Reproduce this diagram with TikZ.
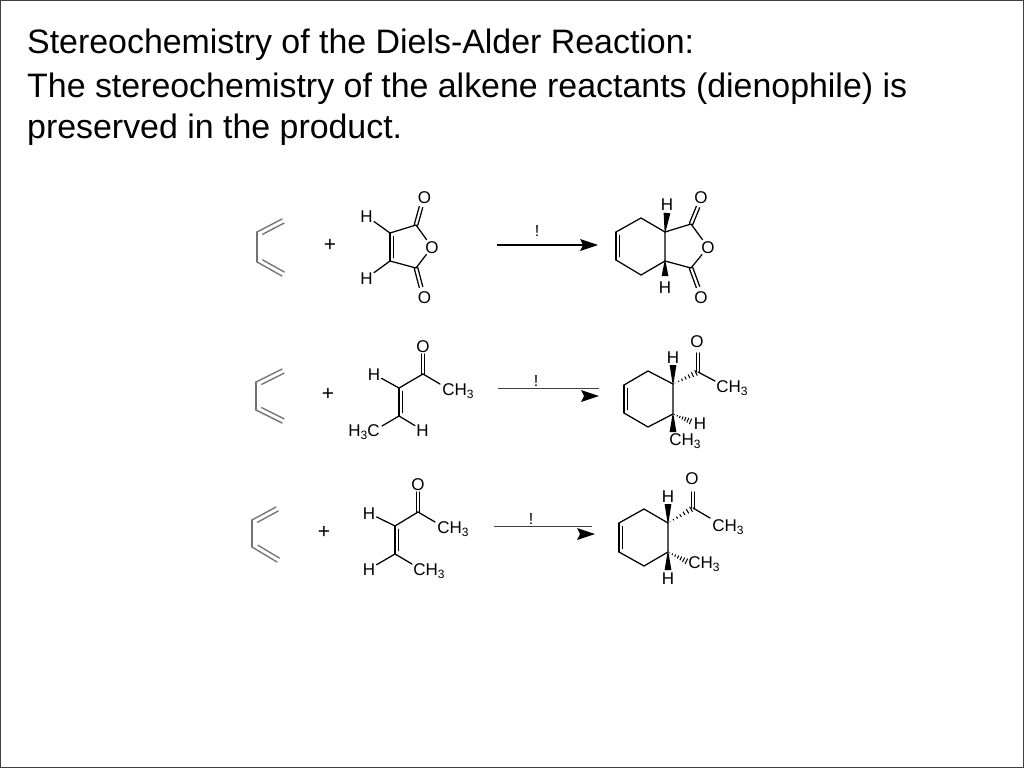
\documentclass[tikz,border=0pt]{standalone}
\usepackage{fontspec}
\setmainfont{Liberation Sans}
\usetikzlibrary{calc}
\newcommand{\subnum}[1]{\raisebox{-3.4pt}{\fontsize{12}{12}\selectfont #1}}
\newcommand{\bondgap}{3.8pt}
\newcommand{\dblbond}[3]{% a b style: main line and inner shortened parallel
  \draw[#3] (#1) -- (#2);
  \draw[#3] ($($(#1)!.12!(#2)$)!\bondgap!\bondside:(#2)$) -- ($($(#2)!.12!(#1)$)!\bondgap!-\bondside:(#1)$);}
\newcommand{\dienebond}[2]{%
  \draw[diene] (#1) -- (#2);
  \draw[diene] ($($(#1)!.14!(#2)$)!4.6pt!\bondside:(#2)$) -- ($(#2)!4.6pt!-\bondside:(#1)$);}
\newcommand{\bondside}{90}
\newcommand{\cobond}[2]{% symmetric C=O
  \draw[bondline] ($(#1)!1.8pt!90:(#2)$) -- ($(#2)!1.8pt!-90:(#1)$);
  \draw[bondline] ($(#1)!1.8pt!-90:(#2)$) -- ($(#2)!1.8pt!90:(#1)$);}
\newcommand{\wedgebond}[2]{%
  \fill ($(#1)!.4pt!90:(#2)$) -- ($(#2)!3.4pt!-90:(#1)$) -- ($(#2)!3.4pt!90:(#1)$) -- ($(#1)!.4pt!-90:(#2)$) -- cycle;}
\newcommand{\hashbond}[2]{%
  \coordinate (hl) at ($(#2)!3.2pt!90:(#1)$);
  \coordinate (hr) at ($(#2)!3.2pt!-90:(#1)$);
  \foreach \t in {.08,.22,.36,.50,.64,.78,.92}
    \draw[line width=1pt] ($(#1)!\t!(hl)$) -- ($(#1)!\t!(hr)$);}
\tikzset{
  bondline/.style={line width=1.25pt,black,line cap=round,line join=round},
  diene/.style={line width=1.35pt,black!55,line cap=round,line join=round},
  atom/.style={font=\fontsize{17}{18}\selectfont,inner sep=1.2pt,anchor=base},
  group/.style={font=\fontsize{17}{18}\selectfont,inner sep=1.2pt,anchor=base west},
  groupr/.style={font=\fontsize{17}{18}\selectfont,inner sep=1.2pt,anchor=base east},
  plussign/.style={font=\fontsize{21}{22}\selectfont,inner sep=0pt},
  bangmark/.style={font=\fontsize{16}{16}\selectfont,inner sep=0pt},
  titleline/.style={font=\fontsize{33.9}{38}\selectfont,inner sep=0pt,anchor=base west}
}
\newcommand{\arrowhead}[2]{% tip, back
  \fill (#1) -- ($(#2)+(-3,-6)$) -- (#2) -- ($(#2)+(-3,6)$) -- cycle;}
\begin{document}
\begin{tikzpicture}[x=1pt,y=-1pt]
\useasboundingbox (0,0) rectangle (1024,768);
\fill[white] (0,0) rectangle (1024,768);
\draw[line width=1pt,black!75] (.5,.5) rectangle (1023.5,767.5);

% title
\node[titleline] (t1) at (27,54) {Stereochemistry of the Diels-Alder Reaction:};
\node[titleline] (t2) at (27,97) {The stereochemistry of the alkene reactants (dienophile) is};
\node[titleline] (t3) at (27,138) {preserved in the product.};

% ---------- row 1 ----------
\coordinate (a1) at (282,219); \coordinate (a2) at (257,232);
\coordinate (a3) at (257,262); \coordinate (a4) at (282,276);
\renewcommand{\bondside}{-90}
\dienebond{a2}{a1}
\draw[diene] (a2) -- (a3);
\renewcommand{\bondside}{90}
\dienebond{a3}{a4}
\node[plussign] (p1) at (330,245) {+};

\coordinate (m3) at (390,233); \coordinate (m4) at (390,261);
\coordinate (m2) at (416,225); \coordinate (m5) at (416,268);
\node[atom] (mO) at (432,253) {O};
\node[atom] (mOa) at (424.5,203) {O};
\node[atom] (mOb) at (424.5,303) {O};
\node[atom] (mH1) at (366.5,222) {H};
\node[atom] (mH2) at (366.5,284) {H};
\coordinate (mO1) at (421,207); \coordinate (mO2) at (421,287);
\renewcommand{\bondside}{90}
\dblbond{m3}{m4}{bondline}
\draw[bondline] (m3) -- (m2) -- (mO) -- (m5) -- (m4);
\cobond{m2}{mO1}
\cobond{m5}{mO2}
\draw[bondline] (m3) -- (mH1);
\draw[bondline] (m4) -- (mH2);

\node[bangmark] (x1) at (537,231) {!};
\coordinate (r1s) at (497,245); \coordinate (r1e) at (585,245);
\draw[line width=1.2pt] (r1s) -- (r1e);
\coordinate (r1t) at (598,245); \coordinate (r1b) at (583,245);
\arrowhead{r1t}{r1b}

\coordinate (c1) at (665,232); \coordinate (c2) at (665,261);
\coordinate (c3) at (641,275); \coordinate (c4) at (616,260);
\coordinate (c5) at (616,232); \coordinate (c6) at (641,218);
\coordinate (c7) at (691,224); \coordinate (c8) at (691,268);
\node[atom] (cO) at (708,253) {O};
\node[atom] (cOa) at (701,203) {O};
\node[atom] (cOb) at (701,303) {O};
\node[atom] (cH1) at (667,210) {H};
\node[atom] (cH2) at (665,293) {H};
\coordinate (cO1) at (698,207); \coordinate (cO2) at (698,287);
\coordinate (cW1) at (667,213); \coordinate (cW2) at (665,276);
\draw[bondline] (c1) -- (c2) -- (c3) -- (c4);
\draw[bondline] (c5) -- (c6) -- (c1) -- (c7) -- (cO) -- (c8) -- (c2);
\renewcommand{\bondside}{90}
\dblbond{c5}{c4}{bondline}
\cobond{c7}{cO1}
\cobond{c8}{cO2}
\wedgebond{c1}{cW1}
\wedgebond{c2}{cW2}

% ---------- row 2 ----------
\coordinate (b1) at (282,369); \coordinate (b2) at (256,382);
\coordinate (b3) at (256,410); \coordinate (b4) at (282,423);
\renewcommand{\bondside}{-90}
\dienebond{b2}{b1}
\draw[diene] (b2) -- (b3);
\renewcommand{\bondside}{90}
\dienebond{b3}{b4}
\node[plussign] (p2) at (328,394) {+};

\coordinate (e1) at (423,374); \coordinate (e2) at (399,388); \coordinate (e3) at (399,416);
\coordinate (eOe) at (423,354);
\node[atom] (eO) at (423,352) {O};
\node[atom] (eH1) at (374,380) {H};
\node[atom] (eH2) at (422.5,436) {H};
\node[group] (eMe) at (441,395) {CH\subnum{3}};
\node[groupr] (eMe2) at (381,436) {H\subnum{3}C};
\coordinate (eB1) at (440,384); \coordinate (eB2) at (382,426);
\cobond{e1}{eOe}
\draw[bondline] (e1) -- (eB1);
\draw[bondline] (e1) -- (e2);
\renewcommand{\bondside}{90}
\dblbond{e2}{e3}{bondline}
\draw[bondline] (e2) -- (eH1);
\draw[bondline] (e3) -- (eH2);
\draw[bondline] (e3) -- (eB2);

\node[bangmark] (x2) at (536,381) {!};
\coordinate (r2s) at (498,388); \coordinate (r2e) at (599,388);
\draw[line width=1pt,black!75] (r2s) -- (r2e);
\coordinate (r2t) at (599,396); \coordinate (r2b) at (584,396);
\arrowhead{r2t}{r2b}

\coordinate (d1) at (673,384); \coordinate (d2) at (673,414);
\coordinate (d3) at (648,427); \coordinate (d4) at (624,413);
\coordinate (d5) at (624,385); \coordinate (d6) at (648,371);
\coordinate (d7) at (698,372); \coordinate (dOe) at (698,353);
\coordinate (dB) at (715,381);
\node[atom] (dO) at (697,347) {O};
\node[atom] (dH1) at (673,363) {H};
\node[atom] (dH2) at (700,429) {H};
\node[group] (dMe) at (715,392) {CH\subnum{3}};
\node[group] (dMe2) at (668,445) {CH\subnum{3}};
\coordinate (dW1) at (673,365); \coordinate (dW2) at (673,432); \coordinate (dH) at (692,422);
\draw[bondline] (d1) -- (d2) -- (d3) -- (d4);
\draw[bondline] (d5) -- (d6) -- (d1);
\renewcommand{\bondside}{90}
\dblbond{d5}{d4}{bondline}
\hashbond{d1}{d7}
\cobond{d7}{dOe}
\draw[bondline] (d7) -- (dB);
\wedgebond{d1}{dW1}
\wedgebond{d2}{dW2}
\hashbond{d2}{dH}

% ---------- row 3 ----------
\coordinate (f1) at (276,507); \coordinate (f2) at (252,520);
\coordinate (f3) at (252,547); \coordinate (f4) at (277,562);
\renewcommand{\bondside}{-90}
\dienebond{f2}{f1}
\draw[diene] (f2) -- (f3);
\renewcommand{\bondside}{90}
\dienebond{f3}{f4}
\node[plussign] (p3) at (324,532) {+};

\coordinate (g1) at (418,512); \coordinate (g2) at (395,526); \coordinate (g3) at (395,554);
\coordinate (gOe) at (418,492); \coordinate (gB1) at (435,522); \coordinate (gB2) at (412,564);
\node[atom] (gO) at (418,490) {O};
\node[atom] (gH1) at (369,519) {H};
\node[atom] (gH2) at (369,575) {H};
\node[group] (gMe) at (436,533) {CH\subnum{3}};
\node[group] (gMe2) at (412,575) {CH\subnum{3}};
\cobond{g1}{gOe}
\draw[bondline] (g1) -- (gB1);
\draw[bondline] (g1) -- (g2);
\renewcommand{\bondside}{90}
\dblbond{g2}{g3}{bondline}
\draw[bondline] (g2) -- (gH1);
\draw[bondline] (g3) -- (gH2);
\draw[bondline] (g3) -- (gB2);

\node[bangmark] (x3) at (531,519) {!};
\coordinate (r3s) at (494,526); \coordinate (r3e) at (592,526);
\draw[line width=1pt,black!75] (r3s) -- (r3e);
\coordinate (r3t) at (595,534); \coordinate (r3b) at (580,534);
\arrowhead{r3t}{r3b}

\coordinate (h1) at (668,523); \coordinate (h2) at (668,552);
\coordinate (h3) at (644,566); \coordinate (h4) at (619,552);
\coordinate (h5) at (619,523); \coordinate (h6) at (644,509);
\coordinate (h7) at (693,508); \coordinate (hOe) at (693,492);
\coordinate (hB) at (710,518);
\node[atom] (hO) at (692,484) {O};
\node[atom] (hH1) at (668,502) {H};
\node[atom] (hH2) at (668,584) {H};
\node[group] (hMe) at (711,531) {CH\subnum{3}};
\node[group] (hMe2) at (687,568) {CH\subnum{3}};
\coordinate (hW1) at (668,504); \coordinate (hW2) at (668,570); \coordinate (hH) at (688,562);
\draw[bondline] (h1) -- (h2) -- (h3) -- (h4);
\draw[bondline] (h5) -- (h6) -- (h1);
\renewcommand{\bondside}{90}
\dblbond{h5}{h4}{bondline}
\hashbond{h1}{h7}
\cobond{h7}{hOe}
\draw[bondline] (h7) -- (hB);
\wedgebond{h1}{hW1}
\wedgebond{h2}{hW2}
\hashbond{h2}{hH}
\end{tikzpicture}
\end{document}
